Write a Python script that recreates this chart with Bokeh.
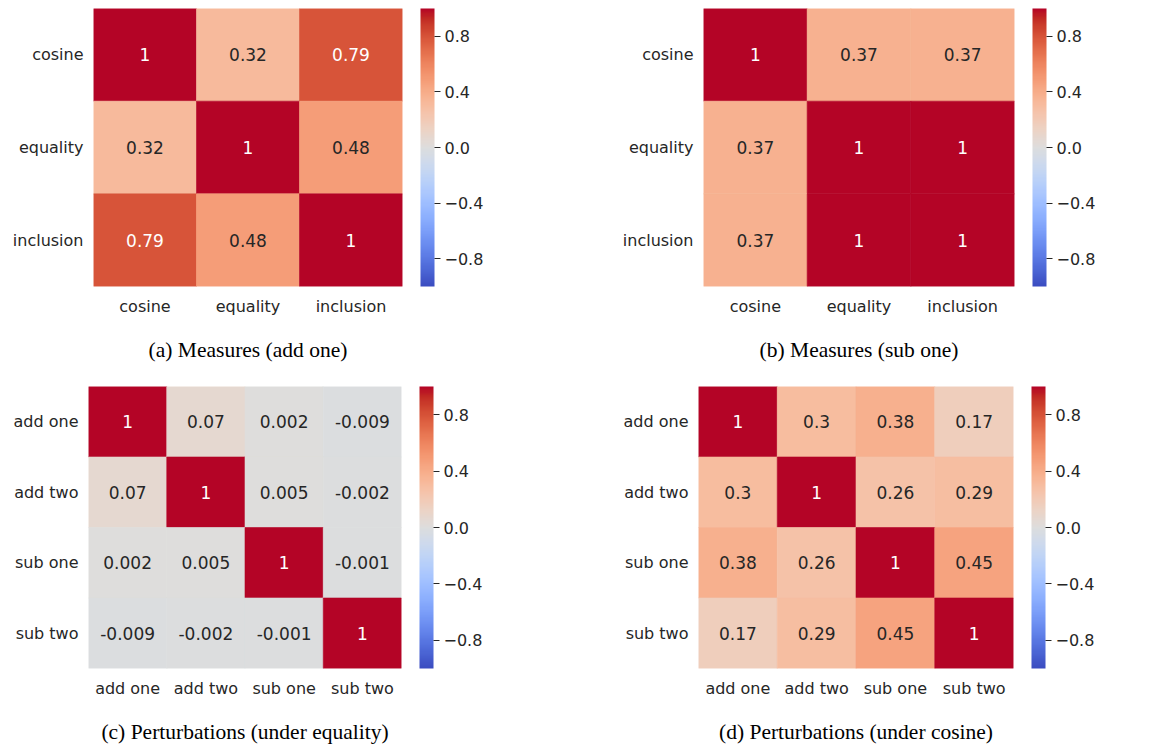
import numpy as np
from bokeh.plotting import figure
from bokeh.models import (ColumnDataSource, LinearColorMapper, ColorBar, FixedTicker,
                          CustomJSTickFormatter, FactorRange, Title)
from bokeh.layouts import column, row
from bokeh.transform import transform
from bokeh.core.properties import value
from bokeh.embed import file_html
from bokeh.resources import INLINE

# ---------------- data ----------------
measures = ["cosine", "equality", "inclusion"]
perturbations = ["add one", "add two", "sub one", "sub two"]

corr_add_one = [[1, 0.32, 0.79],
                [0.32, 1, 0.48],
                [0.79, 0.48, 1]]
corr_sub_one = [[1, 0.37, 0.37],
                [0.37, 1, 1],
                [0.37, 1, 1]]
corr_equality = [[1, 0.07, 0.002, -0.009],
                 [0.07, 1, 0.005, -0.002],
                 [0.002, 0.005, 1, -0.001],
                 [-0.009, -0.002, -0.001, 1]]
corr_cosine = [[1, 0.3, 0.38, 0.17],
               [0.3, 1, 0.26, 0.29],
               [0.38, 0.26, 1, 0.45],
               [0.17, 0.29, 0.45, 1]]

captions = ["(a) Measures (add one)", "(b) Measures (sub one)",
            "(c) Perturbations (under equality)", "(d) Perturbations (under cosine)"]
cbar_ticks = [-0.8, -0.4, 0.0, 0.4, 0.8]

# ---------------- coolwarm palette ----------------
_cw = [(59, 76, 192), (68, 90, 204), (77, 104, 215), (87, 117, 225), (98, 130, 234),
       (108, 142, 241), (119, 154, 247), (130, 165, 251), (141, 176, 254), (152, 185, 255),
       (163, 194, 255), (174, 201, 253), (184, 208, 249), (194, 213, 244), (204, 217, 238),
       (213, 219, 230), (221, 221, 221), (229, 216, 209), (236, 211, 197), (241, 204, 184),
       (245, 196, 171), (247, 187, 157), (247, 177, 143), (246, 166, 130), (244, 154, 116),
       (241, 141, 103), (236, 127, 90), (229, 112, 77), (222, 96, 65), (213, 80, 54),
       (203, 62, 44), (192, 40, 35), (180, 4, 38)]
_cw = np.array(_cw, dtype=float)
_pos = np.linspace(0, 1, len(_cw))
_t = np.linspace(0, 1, 256)
coolwarm = []
_rgb256 = []
for t in _t:
    c = [np.interp(t, _pos, _cw[:, k]) for k in range(3)]
    _rgb256.append(c)
    coolwarm.append("#%02x%02x%02x" % tuple(int(round(v)) for v in c))
_rgb256 = np.array(_rgb256)

TXT = "#262626"


def text_color(v):
    idx = int(np.clip(round((v + 1) / 2 * 255), 0, 255))
    rgb = _rgb256[idx] / 255.0
    rgb = np.where(rgb <= .03928, rgb / 12.92, ((rgb + .055) / 1.055) ** 2.4)
    lum = rgb.dot([.2126, .7152, .0722])
    return TXT if lum > .408 else "white"


def panel(cats, mat, caption, bl, fw, br, bt, fh, bb, cap_standoff):
    xs, ys, vals, txt, tcol = [], [], [], [], []
    for i, r in enumerate(cats):
        for j, c in enumerate(cats):
            v = mat[i][j]
            xs.append(c)
            ys.append(r)
            vals.append(v)
            txt.append(format(v, ".2g"))
            tcol.append(text_color(v))
    src = ColumnDataSource(dict(x=xs, y=ys, v=vals, t=txt, tc=tcol))
    mapper = LinearColorMapper(palette=coolwarm, low=-1, high=1)
    p = figure(frame_width=fw, frame_height=fh, output_backend="svg", toolbar_location=None,
               x_range=FactorRange(*cats, range_padding=0),
               y_range=FactorRange(*list(reversed(cats)), range_padding=0),
               min_border_left=bl, min_border_right=br, min_border_top=bt,
               min_border_bottom=bb)
    p.rect(x="x", y="y", width=1, height=1, source=src,
           fill_color=transform("v", mapper), line_color=transform("v", mapper),
           line_width=0.6)
    p.text(x="x", y="y", text="t", source=src, text_color="tc",
           text_align="center", text_baseline="middle",
           text_font=value("DejaVu Sans"), text_font_size="17px")
    p.grid.visible = False
    p.outline_line_color = None
    for ax in (p.xaxis[0], p.yaxis[0]):
        ax.axis_line_color = None
        ax.major_tick_line_color = None
        ax.minor_tick_line_color = None
        ax.major_tick_out = 0
        ax.major_tick_in = 0
        ax.minor_tick_out = 0
        ax.minor_tick_in = 0
        ax.major_label_text_font = "DejaVu Sans"
        ax.major_label_text_font_size = "16px"
        ax.major_label_text_color = TXT
        ax.major_label_standoff = 10
    fmt = CustomJSTickFormatter(code="""
        var s = Math.abs(tick).toFixed(1);
        return (tick < -1e-9 ? '\u2212' : '') + s;
    """)
    cb = ColorBar(color_mapper=mapper, ticker=FixedTicker(ticks=cbar_ticks), formatter=fmt,
                  width=14, height=fh, padding=0, margin=0, location=(18, 0),
                  bar_line_color=None, major_tick_in=0, major_tick_out=6,
                  major_tick_line_color=TXT, major_label_text_font="DejaVu Sans",
                  major_label_text_font_size="16px", major_label_text_color=TXT,
                  label_standoff=4, background_fill_alpha=0, border_line_color=None)
    p.add_layout(cb, "right")
    p.add_layout(Title(text=caption, align="center", text_font="Liberation Serif",
                       text_font_size="21.5px", text_font_style="normal",
                       text_color="black", standoff=cap_standoff), "below")
    return p


pa = panel(measures, corr_add_one, captions[0], 93, 309, 178, 8, 278, 84, 35)
pb = panel(measures, corr_sub_one, captions[1], 123, 311, 140, 8, 278, 84, 35)
pc = panel(perturbations, corr_equality, captions[2], 88, 313, 179, 7, 282, 80, 34)
pd = panel(perturbations, corr_cosine, captions[3], 118, 315, 141, 7, 282, 80, 34)

layout = column(row(pa, pb), row(pc, pd))
open("out.html", "w").write(file_html(layout, INLINE))
